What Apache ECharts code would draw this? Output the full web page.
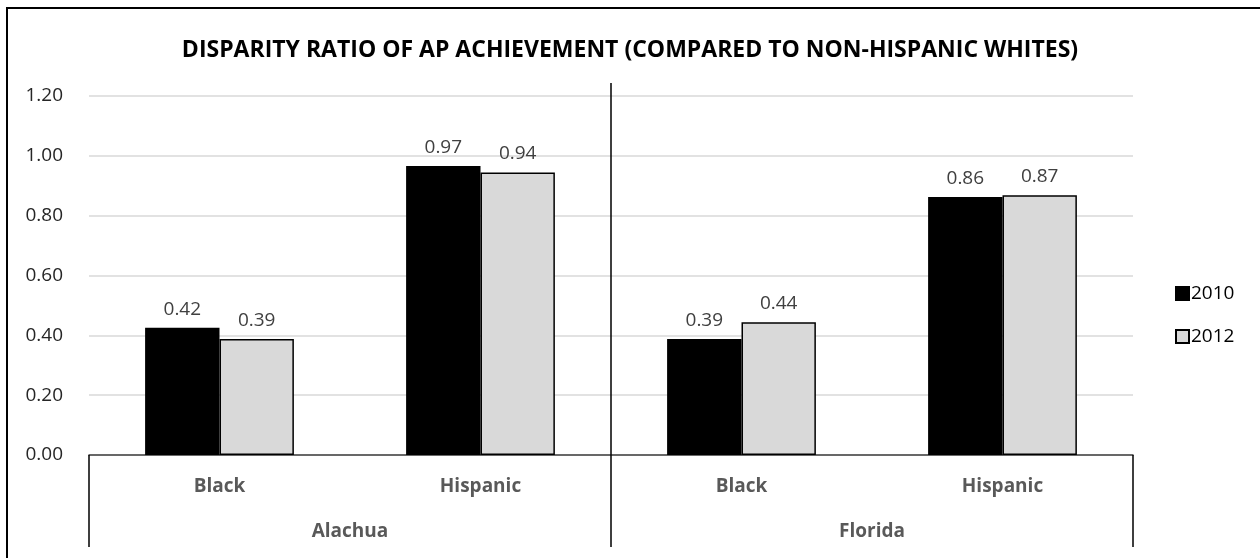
<!DOCTYPE html>
<html>
<head>
<meta charset="utf-8">
<script src="https://cdn.jsdelivr.net/npm/echarts@6/dist/echarts.min.js"></script>
<style>
  html, body { margin: 0; padding: 0; background: #fff; }
  #chart_disparity { width: 1260px; height: 558px; }
</style>
</head>
<body>
<div id="chart_disparity"></div>
<script>
var dom_disparity = document.getElementById('chart_disparity');
var chart_disparity = echarts.init(dom_disparity, null, {
  renderer: 'canvas',
  useDirtyRect: false
});

// two level category axis
var subgroups = ['Black', 'Hispanic', 'Black', 'Hispanic'];
var counties = ['Alachua', 'Florida'];
var years = ['2010', '2012'];
var values_2010 = [0.425, 0.966, 0.388, 0.862];
var values_2012 = [0.388, 0.944, 0.444, 0.868];
var yTicks = [0, 0.2, 0.4, 0.6, 0.8, 1.0, 1.2];

var font = 'Open Sans';

var labelStyle = {
  show: true,
  position: 'top',
  distance: 9,
  color: '#404040',
  fontFamily: font,
  fontSize: 19,
  formatter: function (p) { return p.value.toFixed(2); }
};

var option_disparity = {
  backgroundColor: '#fff',
  animation: false,
  title: {
    text: 'DISPARITY RATIO OF AP ACHIEVEMENT (COMPARED TO NON-HISPANIC WHITES)',
    left: 'center',
    top: 34,
    textStyle: {
      color: '#000',
      fontFamily: font,
      fontWeight: 'bold',
      fontSize: 23
    }
  },
  graphic: [
    {
      type: 'rect',
      shape: { x: 7, y: 8, width: 1300, height: 600 },
      style: { fill: 'none', stroke: '#000', lineWidth: 2 },
      silent: true
    }
  ],
  legend: {
    orient: 'vertical',
    left: 1175,
    top: 284,
    padding: 0,
    itemWidth: 13,
    itemHeight: 13,
    itemGap: 24,
    icon: 'rect',
    data: years,
    textStyle: {
      color: '#000',
      fontFamily: font,
      fontSize: 19,
      padding: [0, 0, 0, -3]
    }
  },
  grid: {
    left: 89,
    right: 127,
    top: 96,
    bottom: 103
  },
  xAxis: [
    {
      type: 'category',
      data: subgroups,
      position: 'bottom',
      axisLine: { show: true, lineStyle: { color: '#404040', width: 1.5 } },
      axisTick: { show: false },
      axisLabel: {
        margin: 22,
        color: '#595959',
        fontFamily: font,
        fontWeight: 'bold',
        fontSize: 19
      },
      splitLine: { show: false }
    },
    {
      type: 'category',
      data: counties,
      position: 'bottom',
      axisLine: { show: false },
      axisTick: {
        show: true,
        interval: 0,
        length: 92,
        lineStyle: { color: '#000', width: 1.5 }
      },
      axisLabel: {
        margin: 67,
        color: '#595959',
        fontFamily: font,
        fontWeight: 'bold',
        fontSize: 19
      },
      splitLine: { show: false }
    },
    {
      // divider between the two counties, up through the plot
      type: 'category',
      data: ['', '', ''],
      boundaryGap: false,
      position: 'bottom',
      axisLine: { show: false },
      axisTick: {
        show: true,
        inside: true,
        length: 372,
        interval: function (i) { return i === 1; },
        lineStyle: { color: '#000', width: 1.5 }
      },
      axisLabel: { show: false },
      splitLine: { show: false }
    }
  ],
  yAxis: {
    type: 'value',
    min: yTicks[0],
    max: yTicks[yTicks.length - 1],
    interval: 0.2,
    axisLine: { show: false },
    axisTick: { show: false },
    axisLabel: {
      margin: 26,
      color: '#262626',
      fontFamily: font,
      fontSize: 19,
      formatter: function (v) { return v.toFixed(2); }
    },
    splitLine: { lineStyle: { color: '#d9d9d9', width: 1.5 } }
  },
  series: [
    {
      name: years[0],
      type: 'bar',
      data: values_2010,
      barGap: '0%',
      barCategoryGap: '43%',
      itemStyle: { color: '#000', borderColor: '#000', borderWidth: 1.5 },
      label: labelStyle
    },
    {
      name: years[1],
      type: 'bar',
      data: values_2012,
      barGap: '0%',
      barCategoryGap: '43%',
      itemStyle: { color: '#d9d9d9', borderColor: '#000', borderWidth: 1.5 },
      label: labelStyle
    }
  ]
};

if (option_disparity && typeof option_disparity === 'object') {
  chart_disparity.setOption(option_disparity);
}

window.addEventListener('resize', chart_disparity.resize);
</script>
</body>
</html>
